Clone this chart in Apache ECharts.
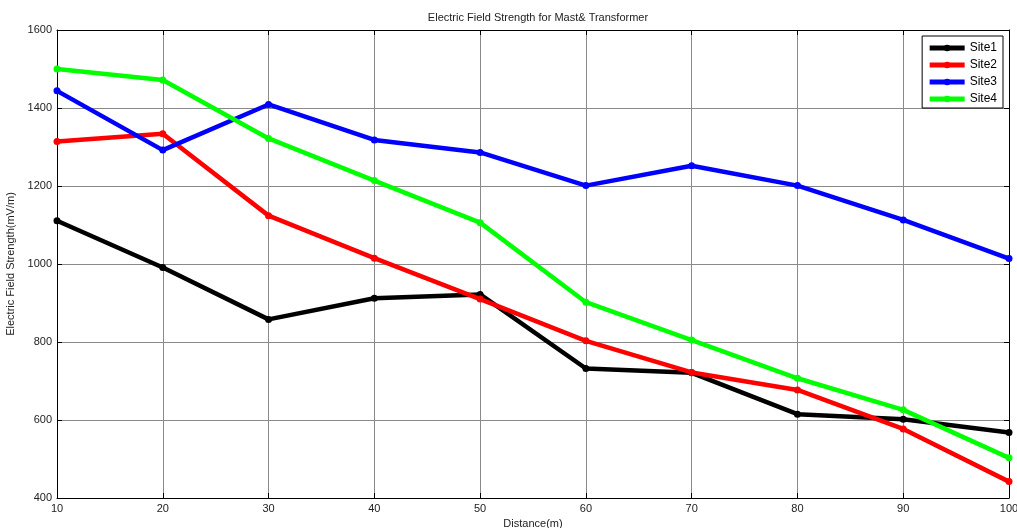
<!DOCTYPE html>
<html>
<head>
<meta charset="utf-8">
<script src="https://cdn.jsdelivr.net/npm/echarts@6/dist/echarts.min.js"></script>
<style>
  html, body { margin: 0; padding: 0; background: #fff; }
  #chart { width: 1017px; height: 528px; }
</style>
</head>
<body>
<div id="chart"></div>
<script>
// distances in metres
const distances = [10, 20, 30, 40, 50, 60, 70, 80, 90, 100];
// field strength (mV/m) per site
const site1 = [1111, 991, 858, 912, 922, 732, 721, 615, 602, 568];
const site2 = [1314, 1334, 1124, 1015, 910, 803, 722, 677, 577, 442];
const site3 = [1444, 1292, 1409, 1318, 1286, 1201, 1252, 1201, 1113, 1014];
const site4 = [1500, 1472, 1322, 1214, 1106, 902, 805, 707, 626, 503];

const siteNames = ["Site1", "Site2", "Site3", "Site4"];
const siteColors = ["#000000", "#ff0000", "#0000ff", "#00ff00"];
const siteData = [site1, site2, site3, site4];

const font = "Arial, 'Liberation Sans', sans-serif";

const chart = echarts.init(document.getElementById("chart"));

const series = siteData.map((vals, i) => ({
  name: siteNames[i],
  type: "line",
  data: vals.map((v, j) => [distances[j], v]),
  symbol: "circle",
  symbolSize: 7,
  lineStyle: { width: 4.5, color: siteColors[i] },
  itemStyle: { color: siteColors[i] },
  z: 3 + i,
}));

const gridLine = { show: true, lineStyle: { color: "#8a8a8a", width: 1 } };

chart.setOption({
  animation: false,
  color: siteColors,
  title: {
    text: "Electric Field Strength for Mast& Transformer",
    left: 533,
    textAlign: "center",
    top: 7,
    textStyle: { fontSize: 11, fontWeight: "normal", color: "#222", fontFamily: font },
  },
  legend: {
    orient: "vertical",
    right: 14,
    top: 36,
    data: siteNames,
    itemWidth: 35,
    itemHeight: 8,
    itemGap: 5,
    padding: [6, 6, 3, 5],
    backgroundColor: "#fff",
    borderColor: "#000",
    borderWidth: 1,
    borderRadius: 0,
    lineStyle: { width: 5 },
    textStyle: { fontSize: 12, color: "#000", fontFamily: font },
  },
  grid: { left: 57, right: 8, top: 30, bottom: 30, outerBoundsMode: "none", containLabel: false },
  xAxis: [
    {
      type: "value",
      min: 10,
      max: 100,
      interval: 10,
      name: "Distance(m)",
      nameLocation: "middle",
      nameGap: 18,
      nameTextStyle: { fontSize: 11, color: "#222", fontFamily: font },
      axisLine: { show: true, onZero: false, lineStyle: { color: "#000", width: 1 } },
      axisTick: { show: true, inside: true, length: 5, lineStyle: { color: "#000" } },
      axisLabel: { fontSize: 11, color: "#222", fontFamily: font, margin: 5 },
      splitLine: gridLine,
    },
    {
      type: "value",
      position: "top",
      min: 10,
      max: 100,
      interval: 10,
      axisLine: { show: true, onZero: false, lineStyle: { color: "#000", width: 1 } },
      axisTick: { show: true, inside: true, length: 5, lineStyle: { color: "#000" } },
      axisLabel: { show: false },
      splitLine: { show: false },
    },
  ],
  yAxis: [
    {
      type: "value",
      min: 400,
      max: 1600,
      interval: 200,
      name: "Electric Field Strength(mV/m)",
      nameLocation: "middle",
      nameGap: 38,
      nameTextStyle: { fontSize: 11, color: "#222", fontFamily: font },
      axisLine: { show: true, onZero: false, lineStyle: { color: "#000", width: 1 } },
      axisTick: { show: true, inside: true, length: 5, lineStyle: { color: "#000" } },
      axisLabel: { fontSize: 11, color: "#222", fontFamily: font, margin: 5, formatter: (v) => String(v) },
      splitLine: gridLine,
    },
    {
      type: "value",
      position: "right",
      min: 400,
      max: 1600,
      interval: 200,
      axisLine: { show: true, onZero: false, lineStyle: { color: "#000", width: 1 } },
      axisTick: { show: true, inside: true, length: 5, lineStyle: { color: "#000" } },
      axisLabel: { show: false },
      splitLine: { show: false },
    },
  ],
  series: series,
});
</script>
</body>
</html>
